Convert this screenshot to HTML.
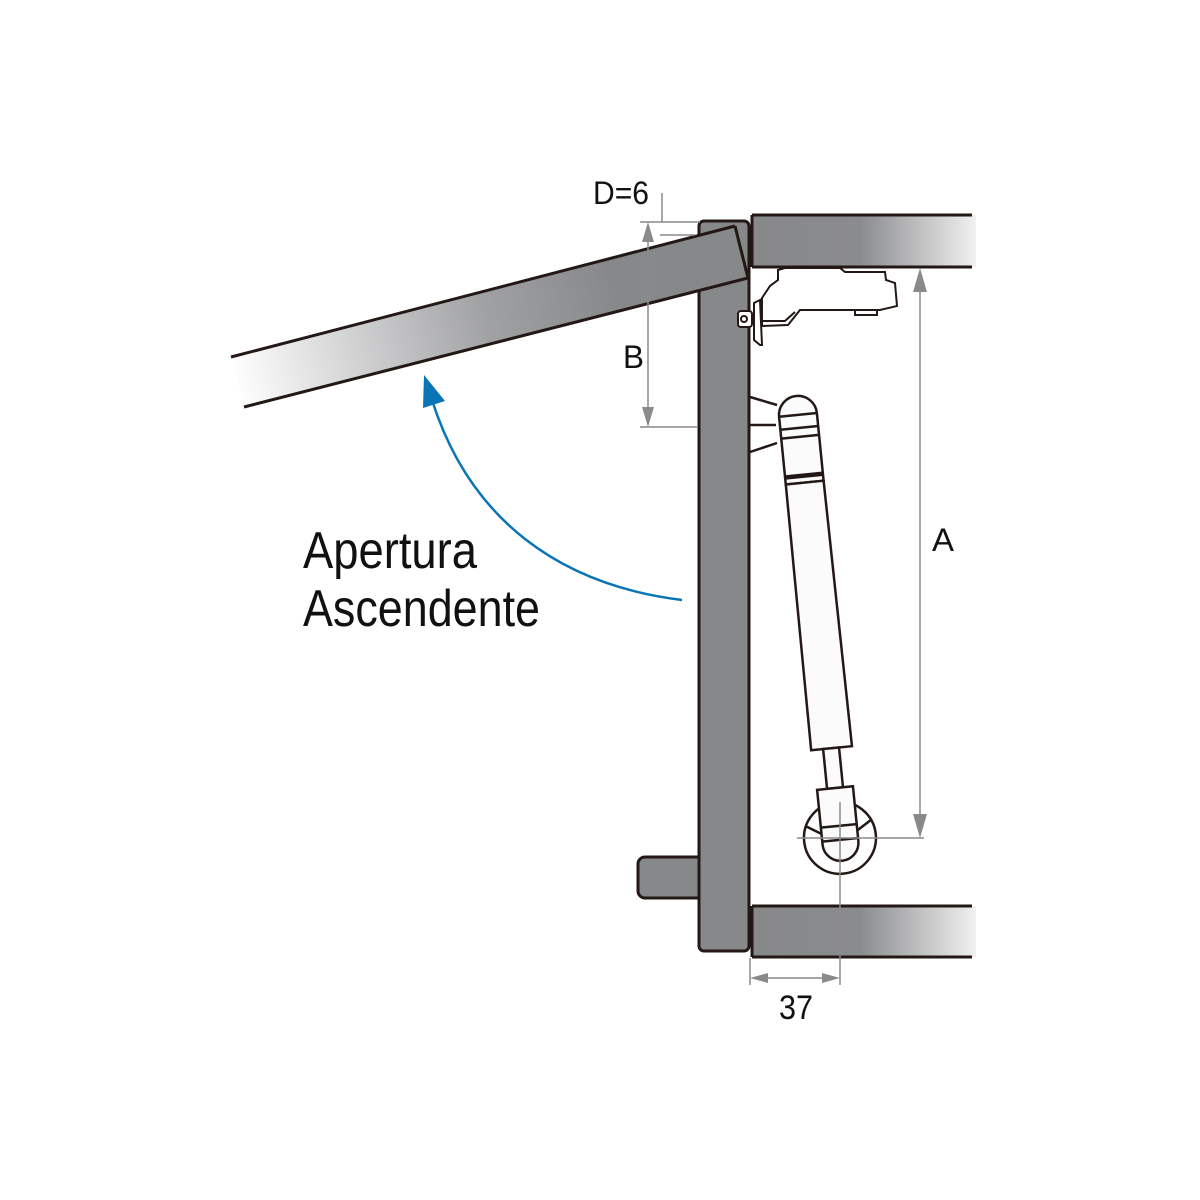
<!DOCTYPE html>
<html><head><meta charset="utf-8"><style>html,body{margin:0;padding:0;background:#fff}svg{display:block}</style></head>
<body>
<svg width="1200" height="1200" viewBox="0 0 1200 1200" xmlns="http://www.w3.org/2000/svg">
<defs>
<linearGradient id="sh" x1="0" x2="1" y1="0" y2="0">
<stop offset="0" stop-color="#87888a"/><stop offset="0.45" stop-color="#8a8b8d"/><stop offset="1" stop-color="#ffffff"/>
</linearGradient>
<linearGradient id="lid" gradientUnits="userSpaceOnUse" x1="232" y1="380" x2="740" y2="250">
<stop offset="0" stop-color="#ffffff"/><stop offset="0.5" stop-color="#a0a1a3"/><stop offset="0.75" stop-color="#87888a"/><stop offset="1" stop-color="#87888a"/>
</linearGradient>
</defs>
<g stroke="#231815" stroke-width="3">
<!-- shelves -->
<rect x="752" y="215" width="240" height="52" fill="url(#sh)" stroke="none"/>
<line x1="752" y1="215" x2="972" y2="215"/><line x1="752" y1="267" x2="972" y2="267"/><line x1="752" y1="215" x2="752" y2="267"/>
<rect x="752" y="906" width="240" height="51" fill="url(#sh)" stroke="none"/>
<line x1="752" y1="906" x2="972" y2="906"/><line x1="752" y1="957" x2="972" y2="957"/><line x1="752" y1="906" x2="752" y2="957"/>
<rect x="976" y="200" width="30" height="780" fill="#fff" stroke="none"/>
<!-- handle -->
<rect x="638" y="857" width="70" height="41" rx="7" fill="#87888a"/>
<!-- door -->
<rect x="699" y="221" width="50" height="730" rx="5" fill="#87888a"/>
<!-- lid -->
<polygon points="231,357 735,226 748,278 244,407" fill="url(#lid)" stroke="none"/>
<line x1="231" y1="357" x2="735" y2="226"/><line x1="735" y1="226" x2="748" y2="278"/><line x1="748" y1="278" x2="244" y2="407"/>
</g>
<!-- hinge -->
<g stroke="#231815" stroke-width="2" fill="#fff">
<path d="M778,270 L785,268 L840,268 L845,272 L885,272 L886,280 L895,283 L897,306 L880,310 L800,310 L788,325 L762,326 L762,298 L770,286 L778,280 Z"/>
<path d="M760,300 L754,303 L754,340 L760,345 L762,345 Z"/>
<rect x="738" y="311" width="14" height="16" rx="3"/>
<circle cx="744" cy="319" r="3"/>
<path d="M762,321 L785,321 L795,312"/>
<rect x="855" y="310" width="22" height="5"/>
</g>
<!-- bracket lines -->
<g stroke="#231815" stroke-width="2.5">
<line x1="750" y1="397" x2="777" y2="405"/><line x1="750" y1="425" x2="776" y2="425"/><line x1="750" y1="452" x2="777" y2="443"/>
</g>
<!-- gas spring -->
<g transform="translate(796,395) rotate(-5.67)" stroke="#231815" stroke-width="2.5" fill="#fbfbfb">
<path d="M-19,80 L-19,20 A19,19 0 0 1 19,20 L19,80 Z"/>
<line x1="-19" y1="20" x2="19" y2="20"/><line x1="-19" y1="33" x2="19" y2="33"/><line x1="-19" y1="42" x2="19" y2="42"/>
<path d="M-19,82 L-19,88 L19,88 L19,82 Z"/>
<path d="M-19,88 L-20,355 L21,355 L19,88 Z"/>
<rect x="-8" y="355" width="16" height="40"/>
<circle cx="0" cy="445" r="36" fill="#fff"/>
<line x1="-33" y1="430" x2="-17" y2="440"/><line x1="33" y1="430" x2="17" y2="440"/>
<path d="M-18,395 L18,395 L18,450 A18,18 0 0 1 -18,450 Z"/>
<line x1="-18" y1="433" x2="18" y2="433"/><line x1="-18" y1="447" x2="18" y2="447"/>
</g>
<!-- dimension lines -->
<g stroke="#8a8a8c" stroke-width="1.5" fill="#8a8a8c">
<line x1="662" y1="193" x2="662" y2="222"/>
<line x1="640" y1="222" x2="700" y2="222"/>
<line x1="660" y1="235" x2="695" y2="235"/>
<line x1="640" y1="427" x2="698" y2="427"/>
<line x1="648" y1="230" x2="648" y2="420"/>
<polygon points="648,222 642,242 654,242" stroke="none"/>
<polygon points="648,427 642,407 654,407" stroke="none"/>
<line x1="920" y1="275" x2="920" y2="832"/>
<polygon points="920,268 913,292 927,292" stroke="none"/>
<polygon points="920,838 913,814 927,814" stroke="none"/>
<line x1="797" y1="838" x2="924" y2="838"/>
<line x1="840" y1="802" x2="840" y2="985"/>
<line x1="750" y1="958" x2="750" y2="985"/>
<line x1="755" y1="978" x2="835" y2="978"/>
<polygon points="750,978 768,973 768,983" stroke="none"/>
<polygon points="840,978 822,973 822,983" stroke="none"/>
</g>
<!-- blue arc -->
<path d="M682,600 C560,585 470,520 432,400" fill="none" stroke="#0a75b5" stroke-width="2.5"/>
<polygon points="424,375 423,408 445,401" fill="#0a75b5"/>
<g font-family="Liberation Sans, sans-serif" fill="#111">
<text x="593" y="204" font-size="32" textLength="56" lengthAdjust="spacingAndGlyphs">D=6</text>
<text x="623" y="368" font-size="32" textLength="21" lengthAdjust="spacingAndGlyphs">B</text>
<text x="932" y="551" font-size="32" textLength="22" lengthAdjust="spacingAndGlyphs">A</text>
<text x="779" y="1019" font-size="34" textLength="34" lengthAdjust="spacingAndGlyphs">37</text>
<text x="303" y="568" font-size="52" textLength="174" lengthAdjust="spacingAndGlyphs">Apertura</text>
<text x="303" y="626" font-size="52" textLength="237" lengthAdjust="spacingAndGlyphs">Ascendente</text>
</g>
</svg>
</body></html>
